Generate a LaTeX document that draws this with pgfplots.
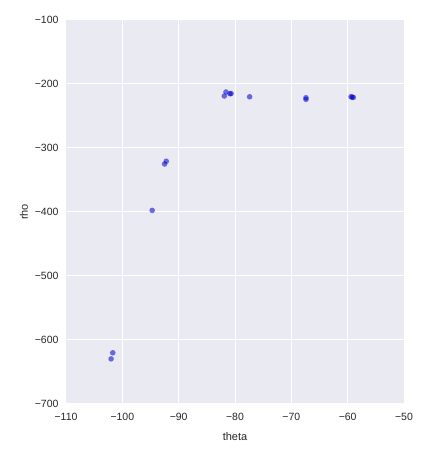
\documentclass[border=0pt]{standalone}
\usepackage{fontspec}
\setmainfont{Liberation Sans}
\usepackage{pgfplots}
\pgfplotsset{compat=1.18}
\definecolor{sbbg}{HTML}{EAEAF2}
\definecolor{sbtext}{HTML}{262626}
\definecolor{pt}{HTML}{0000D0}
\begin{document}
\begin{tikzpicture}[x=1pt,y=1pt]
\path[use as bounding box] (-66,-45) rectangle (373,404);
\begin{axis}[
  at={(0,0)}, anchor=south west,
  width=338pt, height=384pt, scale only axis,
  xmin=-110, xmax=-50, ymin=-700, ymax=-100,
  xtick={-110,-100,...,-50}, ytick={-700,-600,...,-100},
  xticklabels={−110,−100,−90,−80,−70,−60,−50},
  yticklabels={−700,−600,−500,−400,−300,−200,−100},
  axis background/.style={fill=sbbg},
  axis line style={draw=none},
  grid=major, major grid style={white, line width=1pt},
  tick style={draw=none},
  ticklabel style={font=\fontsize{10.5}{12}\selectfont, text=sbtext},
  xlabel={theta}, ylabel={rho},
  label style={font=\fontsize{11}{13}\selectfont, text=sbtext},
  xticklabel style={yshift=-6pt},
  yticklabel style={xshift=-4pt},
  xlabel style={yshift=-5pt},
  ylabel style={yshift=0pt},
]
\addplot[only marks, mark=*, mark size=2.8pt, mark options={draw opacity=0, fill=pt, fill opacity=0.55}] coordinates {
(-81.6,-212.5) (-81.9,-218.8) (-80.9,-215.2) (-80.7,-215)
(-77.4,-220)
(-67.4,-221.5) (-67.4,-224)
(-59.4,-220) (-59.0,-221) (-59.2,-220.5)
(-92.2,-320.7) (-92.5,-325)
(-94.7,-397.5)
(-101.7,-620) (-102.0,-629.5)
};
\end{axis}
\end{tikzpicture}
\end{document}
